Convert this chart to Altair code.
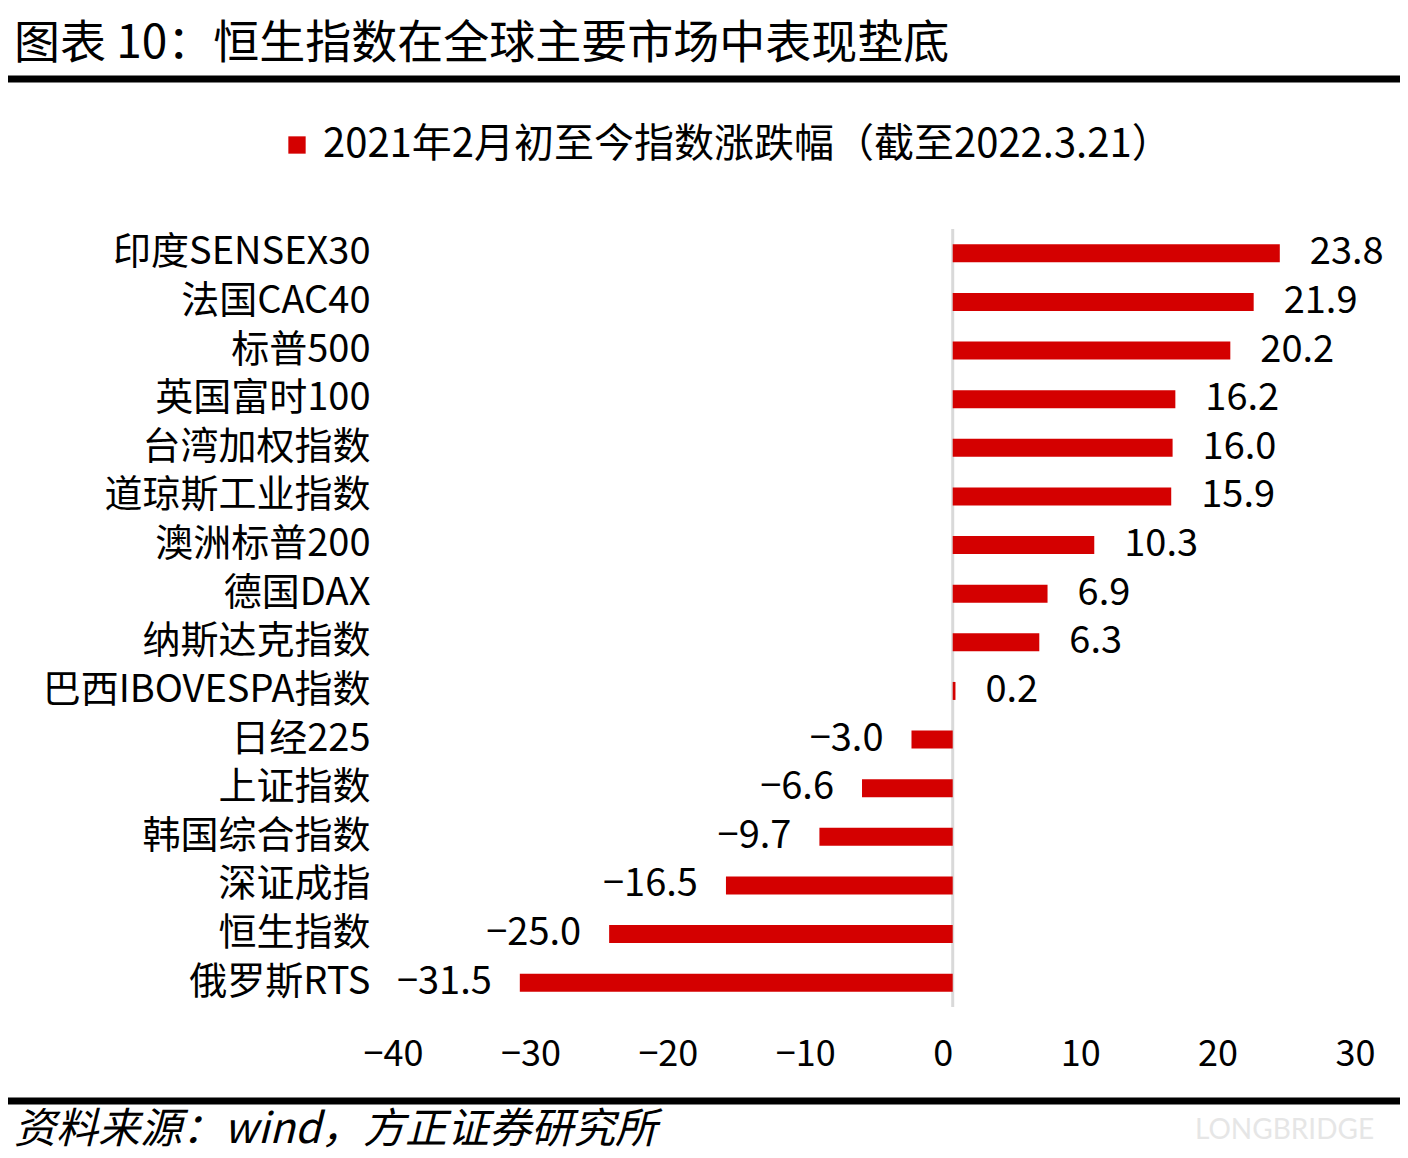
import altair as alt
import pandas as pd

categories = ["印度SENSEX30", "法国CAC40", "标普500", "英国富时100", "台湾加权指数",
              "道琼斯工业指数", "澳洲标普200", "德国DAX", "纳斯达克指数", "巴西IBOVESPA指数",
              "日经225", "上证指数", "韩国综合指数", "深证成指", "恒生指数", "俄罗斯RTS"]
values = [23.8, 21.9, 20.2, 16.2, 16.0, 15.9, 10.3, 6.9, 6.3, 0.2,
          -3.0, -6.6, -9.7, -16.5, -25.0, -31.5]
series_name = "2021年2月初至今指数涨跌幅（截至2022.3.21）"
x_ticks = [-40, -30, -20, -10, 0, 10, 20, 30]
title_text = "图表 10：恒生指数在全球主要市场中表现垫底"
source_text = "资料来源：wind，方正证券研究所"

FONT = "Noto Sans CJK SC"
RED = "#d40000"

df = pd.DataFrame({"name": categories, "value": values, "series": series_name})

W, H = 962, 778
PL, PT = 395, 221

base = alt.Chart(df)

y_enc = alt.Y("name:N", sort=categories,
              axis=alt.Axis(title=None, domain=False, ticks=False, labelPadding=33,
                            labelFontSize=38, labelFont=FONT, labelColor="black",
                            labelLimit=1000))
x_enc = alt.X("value:Q", scale=alt.Scale(domain=[-40, 30], nice=False, zero=False),
              axis=alt.Axis(title=None, domain=False, ticks=False, grid=False,
                            values=x_ticks, labelPadding=40, labelFontSize=36,
                            labelFont=FONT, labelColor="black", translate=-9.5,
                            labelFlush=False, labelOverlap=False))

bars = base.mark_bar(size=18).encode(
    x=x_enc, y=y_enc,
    color=alt.Color("series:N", scale=alt.Scale(range=[RED]),
                    legend=alt.Legend(title=None, orient="none", legendX=-126, legendY=-104,
                                      symbolType="square", symbolSize=300,
                                      symbolStrokeWidth=0, labelFontSize=40,
                                      labelFont=FONT, labelColor="black",
                                      labelOffset=6, labelLimit=2000))
)

pos_labels = base.transform_filter("datum.value >= 0").mark_text(
    align="left", baseline="middle", dx=30, fontSize=38, font=FONT, color="black"
).encode(x="value:Q", y=alt.Y("name:N", sort=categories),
         text=alt.Text("value:Q", format=".1f"))

neg_labels = base.transform_filter("datum.value < 0").mark_text(
    align="right", baseline="middle", dx=-28, fontSize=38, font=FONT, color="black"
).encode(x="value:Q", y=alt.Y("name:N", sort=categories),
         text=alt.Text("value:Q", format=".1f"))

one = pd.DataFrame({"a": [0]})

zero_rule = alt.Chart(one).mark_rule(color="#d9d9d9", strokeWidth=3).encode(
    x=alt.datum(0), y=alt.value(0), y2=alt.value(H))

top_line = alt.Chart(one).mark_rule(color="black", strokeWidth=7).encode(
    x=alt.value(-PL), x2=alt.value(W + 40), y=alt.value(-150))
bottom_line = alt.Chart(one).mark_rule(color="black", strokeWidth=7).encode(
    x=alt.value(-PL), x2=alt.value(W + 40), y=alt.value(872))

title = alt.Chart(one).mark_text(align="left", baseline="alphabetic", fontSize=46,
                                 font=FONT, color="black").encode(
    x=alt.value(-389), y=alt.value(-171), text=alt.value(title_text))

source = alt.Chart(one).mark_text(align="left", baseline="alphabetic", fontSize=42,
                                  font=FONT, fontStyle="italic", color="black").encode(
    x=alt.value(-389), y=alt.value(914), text=alt.value(source_text))

watermark = alt.Chart(one).mark_text(align="left", baseline="alphabetic", fontSize=28,
                                     font="Lato", color="#e6e6e6").encode(
    x=alt.value(792), y=alt.value(910), text=alt.value("LONGBRIDGE"))

chart = alt.layer(zero_rule, bars, pos_labels, neg_labels, top_line, bottom_line,
                  title, source, watermark).properties(
    width=W, height=H,
    autosize=alt.AutoSizeParams(type="none"),
    padding={"left": PL, "top": PT, "right": 35, "bottom": 143},
    background="white",
).configure_view(stroke=None)

chart.save("out.html", embed_options={"renderer": "svg", "actions": False})
